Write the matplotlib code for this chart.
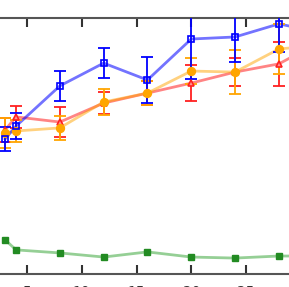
import matplotlib
matplotlib.use("Agg")
import matplotlib.pyplot as plt

x = [3, 4, 8, 12, 16, 20, 24, 28, 32]
xticks = [5, 10, 15, 20, 25, 30]

blue = [52.6, 57.6, 73.3, 82.2, 75.6, 91.6, 92.4, 97.5, 94.0]
blue_err = [4.7, 5.0, 5.7, 5.9, 9.0, 15.6, 9.8, 10.9, 10.0]

orange = [54.9, 55.7, 56.9, 67.0, 70.5, 79.1, 78.7, 87.7, 89.3]
orange_err = [5.9, 4.3, 4.7, 4.9, 4.7, 5.1, 8.6, 9.8, 9.8]

red = [56.1, 61.2, 59.2, 66.6, 70.5, 74.4, 78.7, 81.9, 91.0]
red_err = [4.7, 4.3, 6.0, 4.3, 4.7, 7.0, 5.5, 8.6, 8.0]

green = [13.2, 9.3, 8.1, 6.5, 8.5, 6.5, 6.1, 6.9, 6.9]

W, H = 289, 287
fig = plt.figure(figsize=(W / 100, H / 100), dpi=100)
fig.patch.set_facecolor("white")

x0_px = -27.75
unit = 10.95
xmax = 34
left_px = x0_px
right_px = x0_px + xmax * unit
top_px = 17.5
bottom_px = 273.7
ax = fig.add_axes([left_px / W, 1 - bottom_px / H,
                   (right_px - left_px) / W, (bottom_px - top_px) / H])
ax.set_xlim(0, xmax)
ax.set_ylim(0, 100)

def draw(vals, errs, color, marker, mfc, line_alpha, ms):
    ax.plot(x, vals, color=color, lw=2, alpha=line_alpha, zorder=2)
    if errs is not None:
        ax.errorbar(x, vals, yerr=errs, fmt="none", ecolor=color,
                    elinewidth=1.3, capsize=4, capthick=1.3, zorder=3)
    ax.plot(x, vals, ls="none", marker=marker, ms=ms, mfc=mfc,
            mec=color, mew=1.2, zorder=4)

draw(red, red_err, "#ff2020", "^", "#ff9090", 0.55, 5)
draw(orange, orange_err, "#ffa500", "o", "#ffa500", 0.5, 5.5)
draw(blue, blue_err, "#0000ff", "s", "none", 0.55, 5)
ax.plot(x, green, color="#2ca02c", lw=2, alpha=0.5, zorder=2)
ax.plot(x, green, ls="none", marker="s", ms=5, mfc="#228b22",
        mec="#228b22", zorder=4)

ax.set_xticks(xticks)
ax.set_yticks([])
ax.tick_params(axis="x", direction="in", length=6.5, width=1.5,
               top=True, bottom=True, labelsize=10, pad=8, colors="#333333",
               labelcolor="#333333")
for s in ax.spines.values():
    s.set_color("#555555")
    s.set_linewidth(1.5)

fig.savefig("out.png", dpi=100, facecolor="white")
